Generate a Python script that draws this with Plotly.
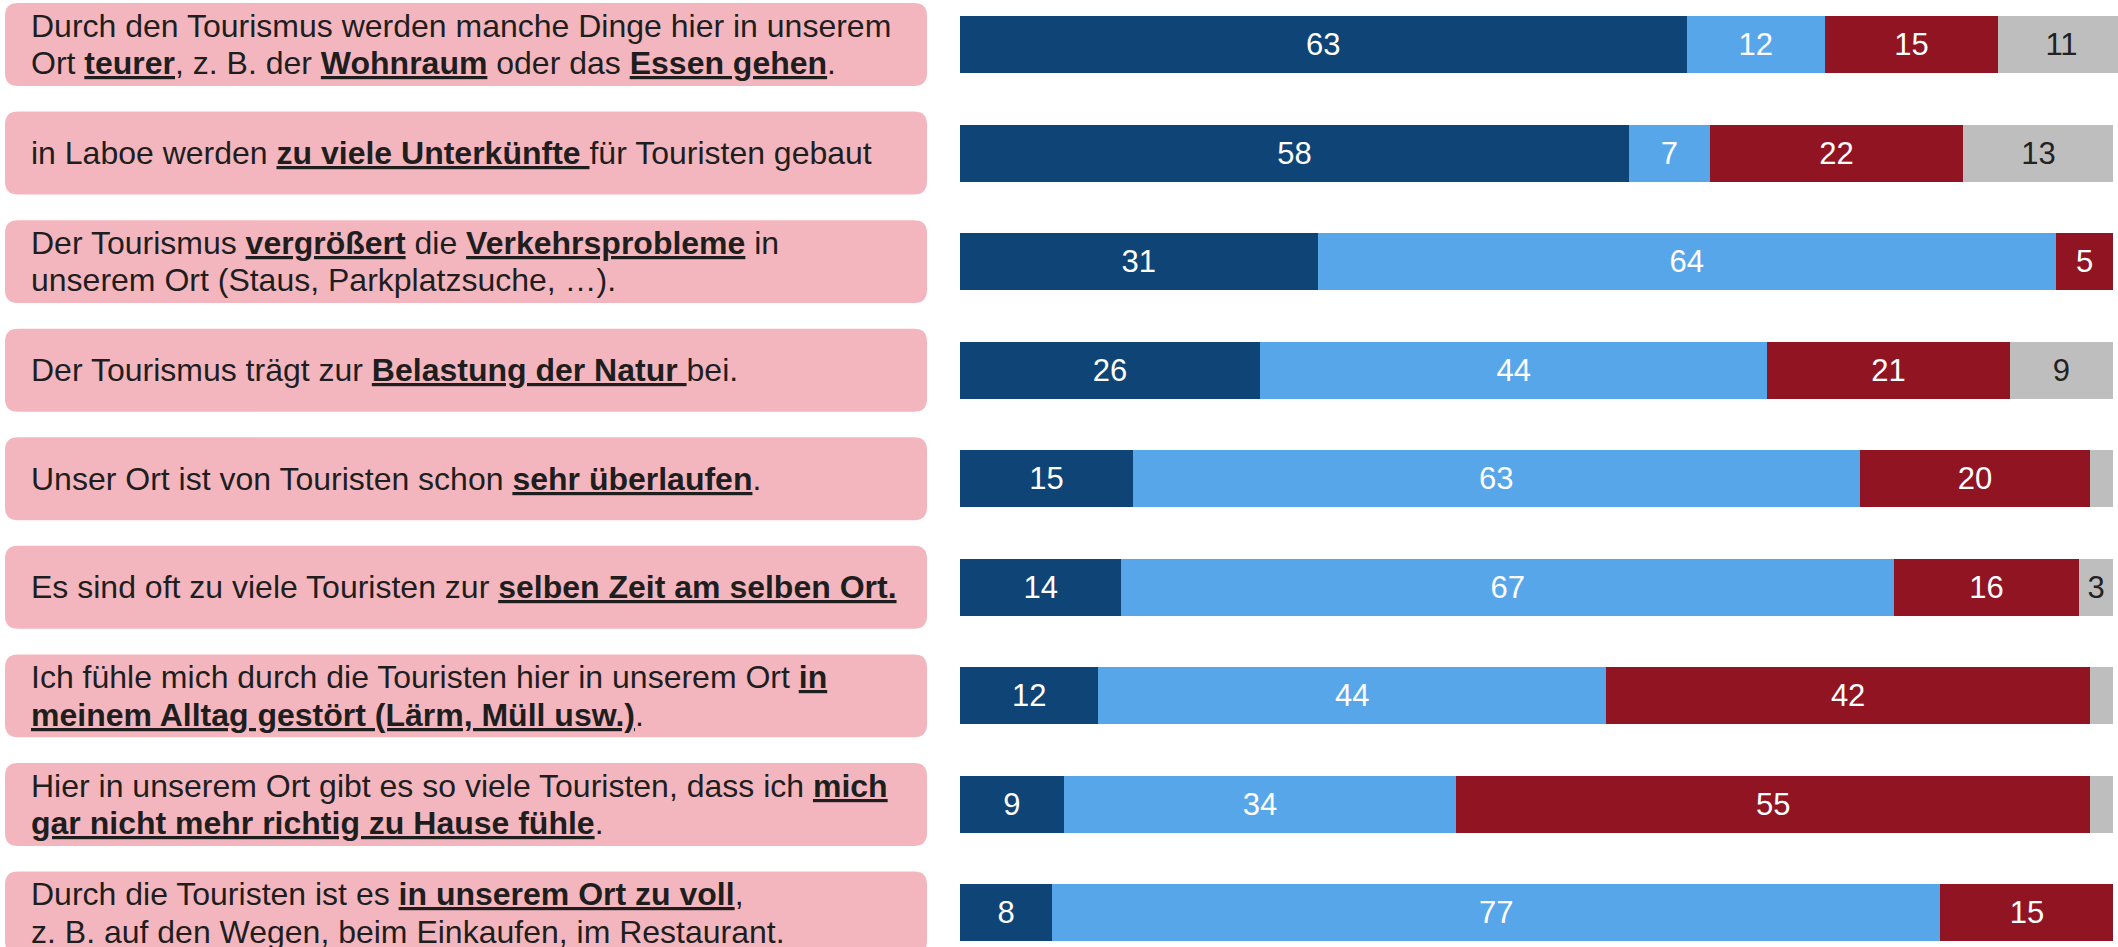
import plotly.graph_objects as go

# ---- data -------------------------------------------------------------
statements = [
    "Durch den Tourismus werden manche Dinge hier in unserem<br>Ort <b><u>teurer</u></b>, z. B. der <b><u>Wohnraum</u></b> oder das <b><u>Essen gehen</u></b>.",
    "in Laboe werden <b><u>zu viele Unterkünfte </u></b>für Touristen gebaut",
    "Der Tourismus <b><u>vergrößert</u></b> die <b><u>Verkehrsprobleme</u></b> in<br>unserem Ort (Staus, Parkplatzsuche, …).",
    "Der Tourismus trägt zur <b><u>Belastung der Natur </u></b>bei.",
    "Unser Ort ist von Touristen schon <b><u>sehr überlaufen</u></b>.",
    "Es sind oft zu viele Touristen zur <b><u>selben Zeit am selben Ort.</u></b>",
    "Ich fühle mich durch die Touristen hier in unserem Ort <b><u>in</u></b><br><b><u>meinem Alltag gestört (Lärm, Müll usw.)</u></b>.",
    "Hier in unserem Ort gibt es so viele Touristen, dass ich <b><u>mich</u></b><br><b><u>gar nicht mehr richtig zu Hause fühle</u></b>.",
    "Durch die Touristen ist es <b><u>in unserem Ort zu voll</u></b>,<br>z. B. auf den Wegen, beim Einkaufen, im Restaurant.",
]
series_names = ["trifft voll zu", "trifft eher zu", "trifft nicht zu", "weiß nicht"]
val_full = [63, 58, 31, 26, 15, 14, 12, 9, 8]
val_partly = [12, 7, 64, 44, 63, 67, 44, 34, 77]
val_not = [15, 22, 5, 21, 20, 16, 42, 55, 15]
val_unknown = [11, 13, 0, 9, 2, 3, 2, 2, 0]

# ---- styling ----------------------------------------------------------
W, H = 2118, 947
colors = ["#0F4476", "#58A6EA", "#911423", "#BEBEBE"]
text_colors = ["#FFFFFF", "#FFFFFF", "#FFFFFF", "#222222"]
FONT = "Liberation Sans, Arial, sans-serif"
pitch_px = 108.56
y_top = -44.5 / pitch_px
y_bottom = y_top + H / pitch_px
line_gap = 37.7 / pitch_px

idx = list(range(len(statements)))

fig = go.Figure()
for name, vals, col, tcol in zip(series_names,
                                 [val_full, val_partly, val_not, val_unknown],
                                 colors, text_colors):
    fig.add_trace(go.Bar(
        x=vals, y=idx, orientation="h", name=name,
        marker=dict(color=col, line=dict(width=0)),
        width=0.525,
        text=[str(v) if v >= 3 else "" for v in vals],
        textposition="inside", insidetextanchor="middle",
        textfont=dict(family=FONT, size=31, color=tcol),
        constraintext="none",
        hoverinfo="x+name",
    ))

# rounded pink boxes behind the statements
x0, x1 = 5 / W, 927 / W
rx, ry = 13 / W, 13 / pitch_px
half = 0.382
shapes = []
for i in idx:
    ya, yb = i - half, i + half
    path = (f"M {x0+rx},{ya} L {x1-rx},{ya} Q {x1},{ya} {x1},{ya+ry} "
            f"L {x1},{yb-ry} Q {x1},{yb} {x1-rx},{yb} "
            f"L {x0+rx},{yb} Q {x0},{yb} {x0},{yb-ry} "
            f"L {x0},{ya+ry} Q {x0},{ya} {x0+rx},{ya} Z")
    shapes.append(dict(type="path", path=path, xref="paper", yref="y",
                       fillcolor="#F4B6BE", line=dict(width=0), layer="below"))

annotations = []
for i, s in zip(idx, statements):
    lines = s.split("<br>")
    n = len(lines)
    for k, ln in enumerate(lines):
        off = (k - (n - 1) / 2) * line_gap
        annotations.append(dict(
            text=ln, x=29 / W, y=i + off, xref="paper", yref="y",
            xanchor="left", yanchor="middle", align="left", showarrow=False,
            font=dict(family=FONT, size=32, color="#1E1E1E")))

fig.update_layout(
    width=W, height=H,
    barmode="stack",
    showlegend=False,
    margin=dict(l=0, r=0, t=0, b=0),
    paper_bgcolor="white", plot_bgcolor="white",
    xaxis=dict(domain=[960 / W, 1], range=[0, 100.4], visible=False),
    yaxis=dict(range=[y_bottom, y_top], visible=False),
    shapes=shapes,
    annotations=annotations,
)

fig.write_html(
    "out.html",
    config={"displayModeBar": False},
    post_script="document.body.style.margin='0';document.body.style.overflow='hidden';",
)
